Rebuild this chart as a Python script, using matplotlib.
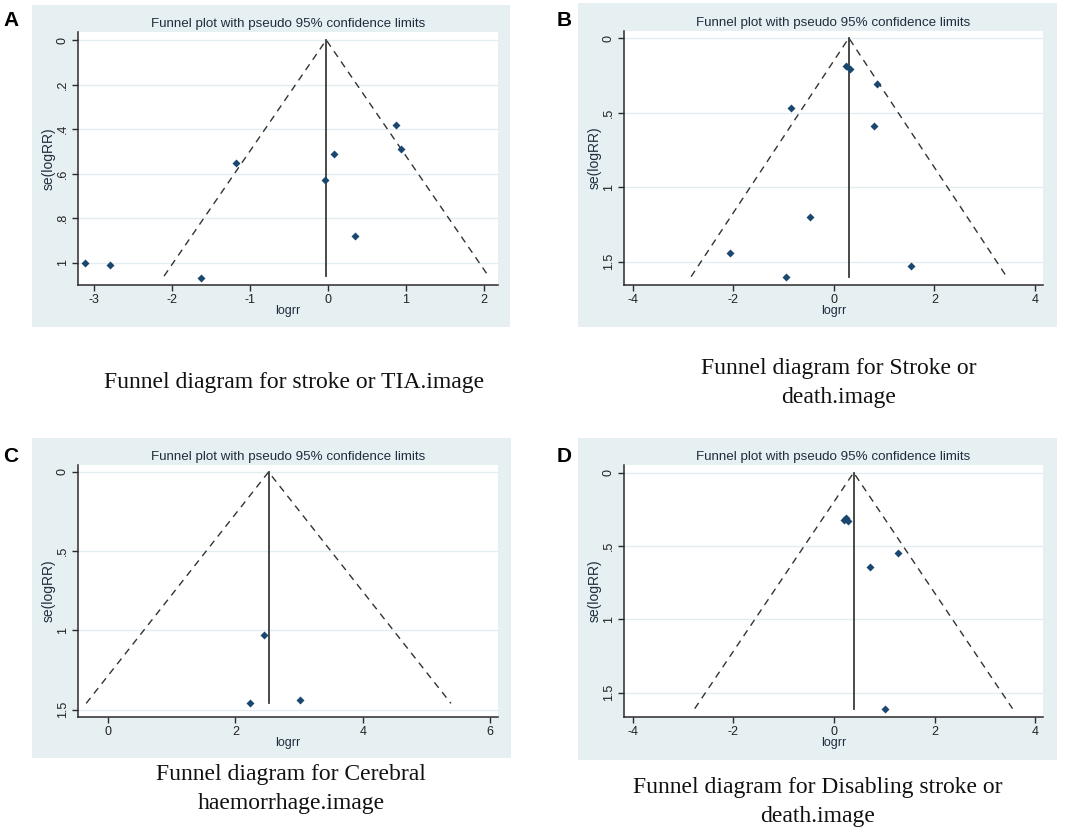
import matplotlib.pyplot as plt
import numpy as np

# panel A - stroke or TIA
a_logrr = [-3.11, -2.79, -1.62, -1.18, 0.08, -0.03, 0.87, 0.94, 0.35]
a_se = [1.00, 1.01, 1.07, 0.55, 0.51, 0.63, 0.38, 0.49, 0.88]
a_pooled, a_semax = -0.02, 1.06

# panel B - stroke or death
b_logrr = [0.25, 0.33, 0.86, -0.84, 0.80, -0.47, -2.06, -0.94, 1.54]
b_se = [0.19, 0.205, 0.31, 0.47, 0.59, 1.20, 1.44, 1.60, 1.53]
b_pooled, b_semax = 0.30, 1.60

# panel C - cerebral haemorrhage
c_logrr = [2.45, 2.23, 3.01]
c_se = [1.03, 1.46, 1.44]
c_pooled, c_semax = 2.52, 1.46

# panel D - disabling stroke or death
d_logrr = [0.20, 0.24, 0.28, 1.28, 0.71, 1.01]
d_se = [0.323, 0.311, 0.33, 0.55, 0.643, 1.61]
d_pooled, d_semax = 0.39, 1.61

a_xticks = [-3, -2, -1, 0, 1, 2]
a_yticks = [0, 0.2, 0.4, 0.6, 0.8, 1.0]
a_ylabels = ['0', '.2', '.4', '.6', '.8', '1']
b_xticks = [-4, -2, 0, 2, 4]
c_xticks = [0, 2, 4, 6]
bcd_yticks = [0, 0.5, 1.0, 1.5]
bcd_ylabels = ['0', '.5', '1', '1.5']

titles = ['Funnel plot with pseudo 95% confidence limits'] * 4
captions = ['Funnel diagram for stroke or TIA.image',
            'Funnel diagram for Stroke or\ndeath.image',
            'Funnel diagram for Cerebral\nhaemorrhage.image',
            'Funnel diagram for Disabling stroke or\ndeath.image']
letters = ['A', 'B', 'C', 'D']

W, H = 1065, 834
fig = plt.figure(figsize=(W / 100, H / 100), dpi=100)
fig.patch.set_facecolor('white')

BG = '#e6eff2'
NAVY = '#1a476f'
TXT = '#1f2d3d'


def fx(x):
    return x / W


def fy(y):
    return 1 - y / H


panels = [
    dict(x=a_logrr, se=a_se, pooled=a_pooled, semax=a_semax,
         box=(32, 5, 510, 327), plot=(78, 32, 498, 285),
         xlim=(-3.2, 2.18), ylim=(1.10, -0.036),
         xt=a_xticks, yt=a_yticks, yl=a_ylabels,
         cap=(294, 382), let=(11, 20)),
    dict(x=b_logrr, se=b_se, pooled=b_pooled, semax=b_semax,
         box=(578, 3, 1057, 327), plot=(624, 31, 1043, 285),
         xlim=(-4.17, 4.16), ylim=(1.656, -0.047),
         xt=b_xticks, yt=bcd_yticks, yl=bcd_ylabels,
         cap=(839, 383), let=(564, 21)),
    dict(x=c_logrr, se=c_se, pooled=c_pooled, semax=c_semax,
         box=(32, 438, 511, 758), plot=(78, 465, 498, 717),
         xlim=(-0.47, 6.12), ylim=(1.546, -0.044),
         xt=c_xticks, yt=bcd_yticks, yl=bcd_ylabels,
         cap=(291, 789), let=(11, 456)),
    dict(x=d_logrr, se=d_se, pooled=d_pooled, semax=d_semax,
         box=(578, 438, 1057, 760), plot=(624, 465, 1043, 717),
         xlim=(-4.17, 4.15), ylim=(1.667, -0.052),
         xt=b_xticks, yt=bcd_yticks, yl=bcd_ylabels,
         cap=(818, 802), let=(564, 456)),
]

for i, p in enumerate(panels):
    # stata graph region
    x0, y0, x1, y1 = p['box']
    bg = fig.add_axes([fx(x0), fy(y1), (x1 - x0) / W, (y1 - y0) / H], zorder=0)
    bg.set_facecolor(BG)
    bg.set_xticks([])
    bg.set_yticks([])
    for s in bg.spines.values():
        s.set_visible(False)

    px0, py0, px1, py1 = p['plot']
    ax = fig.add_axes([fx(px0), fy(py1), (px1 - px0) / W, (py1 - py0) / H], zorder=1)
    ax.set_facecolor('white')
    ax.set_xlim(*p['xlim'])
    ax.set_ylim(*p['ylim'])
    for s in ['top', 'right']:
        ax.spines[s].set_visible(False)
    for s in ['left', 'bottom']:
        ax.spines[s].set_color('#2b2b2b')
        ax.spines[s].set_linewidth(1.1)
    ax.set_xticks(p['xt'])
    ax.set_xticklabels([str(v) for v in p['xt']], fontsize=9, color='#222222',
                       fontfamily='Liberation Sans')
    ax.set_yticks(p['yt'])
    ax.set_yticklabels(p['yl'], fontsize=9, color='#222222', rotation=90,
                       va='center', fontfamily='Liberation Sans')
    ax.tick_params(length=4, width=1, color='#2b2b2b', pad=2.5)
    for t in p['yt']:
        ax.axhline(t, color='#e3edf0', lw=1.0, zorder=0)

    # pseudo 95% limits
    semax = p['semax']
    pooled = p['pooled']
    ax.plot([pooled - 1.96 * semax, pooled, pooled + 1.96 * semax],
            [semax, 0, semax], color='#333333', lw=1.0, ls=(0, (5, 4)), zorder=2)
    ax.plot([pooled, pooled], [0, semax], color='#3a3a3a', lw=1.3, zorder=2)
    ax.plot(p['x'], p['se'], 'D', color=NAVY, markersize=4.5, mec='none', zorder=3)

    ax.set_xlabel('logrr', fontsize=9, color=TXT, labelpad=-1,
                  fontfamily='Liberation Sans')
    ax.set_ylabel('se(logRR)', fontsize=10, color=TXT, labelpad=1,
                  fontfamily='Liberation Sans')
    ax.text(0.5, 1.0 + 8 / (py1 - py0), titles[i], transform=ax.transAxes,
            ha='center', va='center', fontsize=9.6, color=TXT,
            fontfamily='Liberation Sans', clip_on=False)

    cx, cy = p['cap']
    fig.text(fx(cx), fy(cy), captions[i], ha='center', va='center', fontsize=17,
             fontfamily='Liberation Serif', color='#111111', linespacing=1.45)
    lx, ly = p['let']
    fig.text(fx(lx), fy(ly), letters[i], ha='center', va='center', fontsize=15,
             fontweight='bold', fontfamily='Liberation Sans', color='black')

fig.savefig('out.png', dpi=100)
